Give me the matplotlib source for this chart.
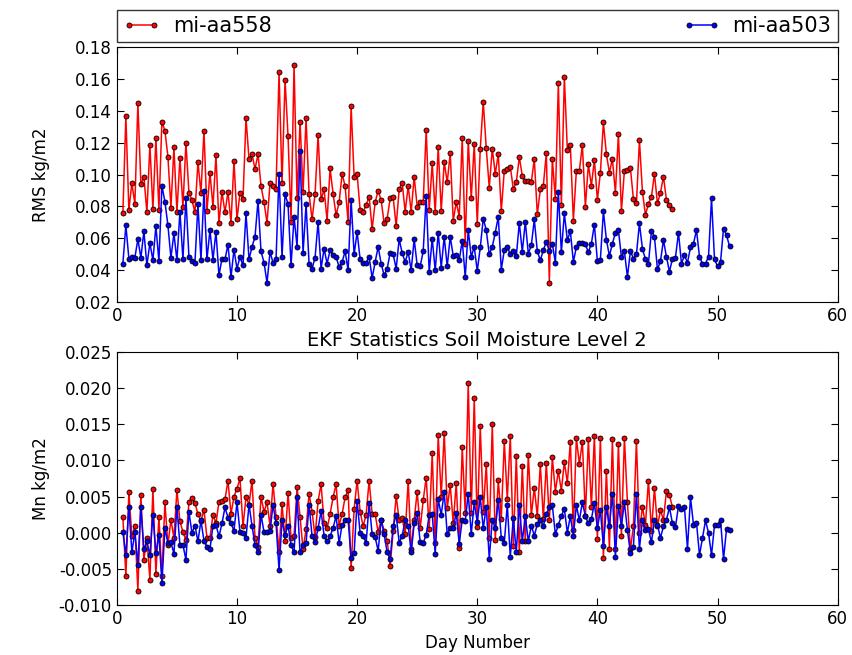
import numpy as np
import matplotlib
matplotlib.use("Agg")
import matplotlib.pyplot as plt

plt.rcParams['font.family'] = ['DejaVu Sans']
plt.rcParams['axes.unicode_minus'] = False

series_labels = ["mi-aa558", "mi-aa503"]

rms_558 = [
    0.0756, 0.1365, 0.0777, 0.0945, 0.0815, 0.145, 0.0939, 0.0987, 0.0762, 0.1186,
    0.0783, 0.1228, 0.0777, 0.1333, 0.1275, 0.1113, 0.0791, 0.117, 0.0762, 0.1107,
    0.0798, 0.120, 0.0886, 0.084, 0.0762, 0.108, 0.0882, 0.1275, 0.077, 0.1012,
    0.0798, 0.112, 0.0693,
    0.0892, 0.0762, 0.0892, 0.0697, 0.1086, 0.0718, 0.0886, 0.0844, 0.1354, 0.1098,
    0.1128, 0.1035, 0.1128, 0.0928, 0.0827, 0.0697, 0.0945, 0.093, 0.0907, 0.1642,
    0.0945, 0.1596, 0.1239, 0.0703, 0.169, 0.085, 0.1333, 0.0892, 0.1354, 0.0878,
    0.0718, 0.0878, 0.125, 0.0844, 0.0907,
    0.0711, 0.1039, 0.0878, 0.0745, 0.0825, 0.1004, 0.0928, 0.0703, 0.1428, 0.0987,
    0.1002, 0.0777, 0.0766, 0.0808, 0.0861, 0.0657, 0.0825, 0.0899, 0.084, 0.0693,
    0.0724, 0.085, 0.0857, 0.0676, 0.0907, 0.0949, 0.0766, 0.0928, 0.0766, 0.0987,
    0.0798, 0.0829, 0.0825, 0.1281,
    0.0777, 0.1071, 0.0762, 0.1172, 0.077, 0.108, 0.0951, 0.1134, 0.0711, 0.0827,
    0.0735, 0.1228, 0.0567, 0.1212, 0.085, 0.1193, 0.0689, 0.1161, 0.1457, 0.1165,
    0.0918, 0.1163, 0.1004, 0.1128, 0.077, 0.1025, 0.1037, 0.105, 0.0911, 0.0951,
    0.1109, 0.0993, 0.096, 0.096, 0.0951, 0.1098,
    0.075, 0.0907, 0.093, 0.1134, 0.0321, 0.11, 0.0844, 0.1575, 0.0806, 0.1613,
    0.1155, 0.1184, 0.0711, 0.1025, 0.1025, 0.1186, 0.0798, 0.1065, 0.093, 0.1092,
    0.084, 0.1012, 0.1327, 0.1128, 0.1012, 0.1098, 0.0886, 0.1254, 0.077, 0.1025,
    0.1029, 0.1039, 0.0846, 0.0819, 0.1214,
    0.0892, 0.0747, 0.0815, 0.0861, 0.1004, 0.0819, 0.0886, 0.0987, 0.084, 0.0808,
    0.0783,
]

rms_503 = [
    0.0441, 0.0682, 0.0472, 0.0483, 0.0479, 0.0594, 0.0477, 0.0644, 0.043, 0.0571,
    0.0462, 0.0676, 0.0456, 0.093, 0.0829, 0.0682, 0.0477, 0.063, 0.0462, 0.0766,
    0.0468, 0.085, 0.0483, 0.0456, 0.0447, 0.0813, 0.0462, 0.0899, 0.0468, 0.0651,
    0.0466, 0.064, 0.0367,
    0.0472, 0.0468, 0.056, 0.0357, 0.0529, 0.0409, 0.0483, 0.043, 0.0756, 0.0468,
    0.0546, 0.0609, 0.0836, 0.0518, 0.0447, 0.0321, 0.0514, 0.0447, 0.0468, 0.1004,
    0.0483, 0.0878, 0.0813, 0.043, 0.0735, 0.0546, 0.1151, 0.0508, 0.0813, 0.0441,
    0.0409, 0.0479, 0.0703, 0.0409, 0.0535,
    0.0441, 0.0525, 0.0493, 0.0483, 0.042, 0.0451, 0.0518, 0.0399, 0.084, 0.0499,
    0.064, 0.0468, 0.0447, 0.0447, 0.0483, 0.035, 0.0451, 0.0546, 0.0441, 0.0367,
    0.0409, 0.0508, 0.0499, 0.0409, 0.0594, 0.0508, 0.0451, 0.0514, 0.0399, 0.0594,
    0.043, 0.0424, 0.0518, 0.0865,
    0.0388, 0.0598, 0.0399, 0.0636, 0.0416, 0.0609, 0.0424, 0.0609, 0.0489, 0.0497,
    0.0462, 0.0584, 0.0357, 0.0651, 0.0483, 0.0546, 0.0395, 0.0542, 0.0724, 0.0651,
    0.0499, 0.0546, 0.0636, 0.0735, 0.0403, 0.0525, 0.0546, 0.0499, 0.0518, 0.0487,
    0.0697, 0.0514, 0.0703, 0.0504, 0.0556, 0.0718,
    0.0518, 0.0462, 0.0525, 0.0577, 0.052, 0.0567, 0.0447, 0.0892, 0.0512, 0.0756,
    0.0588, 0.0644, 0.0451, 0.0546, 0.0571, 0.0571, 0.0563, 0.0512, 0.0567, 0.0686,
    0.0456, 0.0466, 0.077, 0.0592, 0.0489, 0.0567, 0.0634, 0.0651, 0.0483, 0.0518,
    0.0357, 0.052, 0.0472, 0.0499, 0.0693,
    0.0535, 0.0468, 0.0441, 0.0647, 0.0609, 0.0405, 0.0456, 0.0588, 0.0483, 0.039,
    0.0472, 0.0479, 0.0636, 0.0441, 0.0493, 0.0447, 0.0542, 0.0567, 0.0651, 0.0483,
    0.0441, 0.0441, 0.0483, 0.085, 0.0468, 0.0424, 0.0451, 0.0661, 0.0619, 0.055,
]

mn_558 = [
    0.00225, -0.006, 0.0056, -0.0005, 0.0009, -0.008, 0.0052, -0.0037, -0.0007, -0.0065,
    0.0061, -0.0057, 0.00225, -0.006, 0.0042, -0.0017, 0.0018, -0.0007, 0.0059, 0.0016,
    0.0001, -0.001, 0.0042, 0.0048, 0.0041, 0.0026, 0.0016, 0.0032, -0.0007, -0.0007,
    0.0025, 0.0013, 0.0043,
    0.0044, 0.0046, 0.0072, 0.0026, 0.005, 0.0061, 0.0075, 0.0009, 0.0049, 0.0039,
    0.0072, -0.0007, -0.0019, 0.005, 0.0029, 0.0042, 0.001, 0.0068, 0.0022, -0.0026,
    0.004, -0.0011, 0.0055, -0.0007, -0.0005, 0.0063, 0.0022, -0.0023, 0.0005, 0.0054,
    0.0029, -0.0006, 0.0044, 0.0067, 0.0013,
    0.0006, 0.0026, 0.0049, 0.0067, 0.001, 0.0026, 0.0049, 0.0059, -0.0049, 0.0033,
    0.0072, 0.0029, 0.0009, 0.0025, 0.0072, 0.0026, 0.0026, 0.0001, 0.0018, 0.0002,
    -0.0011, -0.0046, 0.0002, 0.0051, 0.0017, 0.002, -0.0002, 0.0072, -0.0023, 0.0018,
    0.0057, 0.0006, 0.0045,
    0.0076, 0.0005, 0.011, -0.0014, 0.0135, 0.005, 0.0138, 0.0034, 0.0066, 0.0013,
    0.0069, -0.0021, 0.0118, 0.0027, 0.0207, 0.0027, 0.0186, 0.0008, 0.0147, 0.0029,
    0.0095, -0.0007, 0.015, -0.001, 0.0073, 0.0019, 0.0127, 0.0046, 0.0134, -0.0018,
    0.0106, -0.0027, 0.0092, -0.0012, 0.0108, 0.0024, 0.0062,
    0.0023, 0.0095, 0.0019, 0.0097, 0.0017, 0.0104, 0.0057, 0.0085, 0.0058, 0.0098,
    0.0069, 0.0126, 0.0004, 0.0131, 0.0095, 0.0126, 0.0023, 0.0129, 0.0035, 0.0134,
    -0.0009, 0.0131, -0.0035, 0.0086, -0.0022, 0.0129, -0.0023, 0.0123, -0.0005, 0.0131,
    0.0042, -0.0023, 0.0009, 0.0127,
    0.0, 0.0036, 0.0011, 0.0072, 0.0002, 0.0062, 0.0009, 0.0031, 0.0018, 0.0058,
    0.0052, 0.0035,
]

mn_503 = [
    0.0001, -0.0031, 0.0036, -0.0027, 0.0001, -0.0044, 0.0035, -0.0023, -0.0012, -0.0031,
    0.0025, -0.0028, -0.0003, -0.0069, 0.0006, -0.0014, -0.0013, -0.0029, 0.0036, -0.0017,
    -0.0017, -0.0037, 0.0029, 0.0, 0.001, -0.0012, 0.0017, -0.0011, -0.0019, -0.0023,
    0.001, 0.0011, -0.0005,
    0.0013, 0.0035, 0.0021, 0.0013, 0.0003, 0.0042, 0.0001, 0.0, -0.0007, 0.0039,
    0.001, -0.0017, -0.0027, 0.0025, 0.0001, 0.0001, 0.0002, 0.0039, 0.0013, -0.0051,
    0.0017, -0.0003, 0.001, -0.0017, -0.0027, 0.0049, -0.0027, -0.0017, -0.0014, 0.0039,
    -0.0005, -0.0013, 0.0006, 0.003, -0.0004,
    -0.0012, -0.0005, 0.0007, 0.0023, -0.0014, 0.0011, 0.0017, 0.0018, -0.0035, -0.0028,
    0.0044, 0.0, -0.0004, -0.0014, 0.0041, -0.0002, -0.0006, -0.0025, 0.0018, -0.0002,
    -0.0027, -0.0036, 0.0009, 0.0025, -0.0014, -0.0004, 0.0017, 0.001, -0.0027, 0.0013,
    0.0028, -0.0013, -0.0014, -0.0003,
    0.0024, 0.0026, -0.0029, 0.0046, 0.0025, 0.0056, -0.0002, 0.0006, 0.0006, 0.0028,
    -0.0015, 0.0018, 0.0016, 0.0054, -0.0002, 0.0042, 0.0015, 0.0049, 0.0006, 0.0036,
    -0.0036, 0.0018, 0.0006, 0.0045, -0.0007, -0.0014, 0.0039, -0.0033, 0.002, -0.0027,
    0.0039, -0.0012, 0.0023, -0.0012, 0.001, -0.0004,
    0.0012, 0.0018, 0.0009, 0.0026, 0.0035, 0.0038, -0.0002, 0.0011, 0.0023, 0.0033,
    0.0, 0.0023, -0.0004, 0.0038, 0.0017, 0.0042, 0.0023, 0.0013, 0.0019, 0.0041,
    0.0006, 0.0031, -0.0018, 0.0035, 0.001, 0.0054, -0.0033, 0.0037, 0.001, 0.0042,
    0.0004, -0.0028, -0.0019, 0.0054,
    -0.0022, 0.0018, 0.0004, 0.0005, -0.0013, 0.0018, 0.0011, -0.0007, 0.0009, 0.0018,
    0.0035, 0.0013, 0.0008, 0.0037, 0.0033, 0.0035, -0.0022, 0.0049, 0.0011, 0.0014,
    -0.0031, -0.0007, 0.0017, 0.0, -0.0031, 0.0011, 0.0011, 0.0018, -0.0036, 0.0005,
    0.0004,
]

# 6-hourly analysis times (day number)
day_start, day_step = 0.5, 0.25
days_558 = day_start + day_step * np.arange(len(rms_558))
days_503 = day_start + day_step * np.arange(len(rms_503))

x_ticks = [0, 10, 20, 30, 40, 50, 60]
rms_ticks = [0.02, 0.04, 0.06, 0.08, 0.10, 0.12, 0.14, 0.16, 0.18]
mn_ticks = [-0.010, -0.005, 0.000, 0.005, 0.010, 0.015, 0.020, 0.025]

fig = plt.figure(figsize=(8.53, 6.55), dpi=100)
ax1 = fig.add_axes([0.137, 0.539, 0.845, 0.389])
ax2 = fig.add_axes([0.137, 0.076, 0.845, 0.387])

style = dict(lw=1.1, marker='o', markersize=3.6, markeredgecolor='black', markeredgewidth=0.6)

for ax, y1, y2 in [(ax1, rms_558, rms_503), (ax2, mn_558, mn_503)]:
    ax.plot(days_558, y1, color='red', markerfacecolor='red', label=series_labels[0], **style)
    ax.plot(days_503, y2, color='blue', markerfacecolor='blue', label=series_labels[1], **style)
    ax.set_xlim(0, 60)
    ax.set_xticks(x_ticks)
    ax.tick_params(direction='in', labelsize=12, length=5, top=True, right=True)

ax1.set_ylim(0.02, 0.18)
ax1.set_yticks(rms_ticks)
ax1.set_yticklabels([f"{v:.2f}" for v in rms_ticks])
ax1.set_ylabel("RMS kg/m2", fontsize=12)
ax1.yaxis.set_label_coords(-0.093, 0.5)

ax2.set_ylim(-0.010, 0.025)
ax2.set_yticks(mn_ticks)
ax2.set_yticklabels([f"{v:.3f}" for v in mn_ticks])
ax2.set_ylabel("Mn kg/m2", fontsize=12)
ax2.yaxis.set_label_coords(-0.093, 0.5)
ax2.set_xlabel("Day Number", fontsize=12)
ax2.set_title("EKF Statistics Soil Moisture Level 2", fontsize=14, pad=4)

leg = ax1.legend(loc='lower left', bbox_to_anchor=(0.0, 1.02, 1.0, 0.085), mode='expand',
                 ncol=2, fontsize=15, numpoints=2, borderaxespad=0.0, fancybox=False,
                 handlelength=1.8, borderpad=0.3, handletextpad=0.6)
leg.get_frame().set_edgecolor('black')
leg.get_frame().set_linewidth(1.0)

fig.savefig("out.png", dpi=100)
